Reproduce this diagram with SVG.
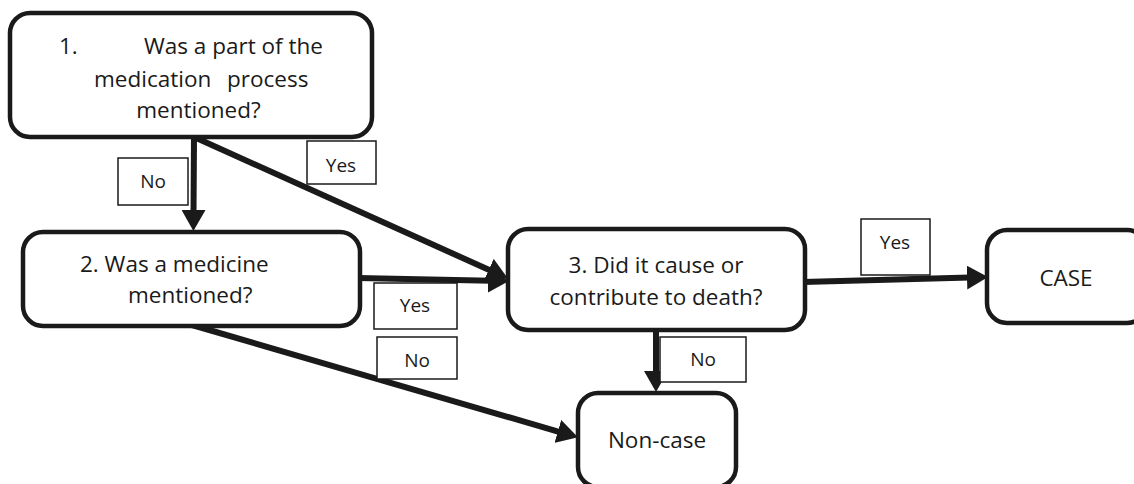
<svg xmlns="http://www.w3.org/2000/svg" width="1134" height="484" viewBox="0 0 1134 484">
<defs>
<style>
.box{fill:#fff;stroke:#1a1a1a;stroke-width:4.5}
.lbl{fill:#fff;stroke:#1a1a1a;stroke-width:1.5}
.con{stroke:#1a1a1a;stroke-width:6;fill:none;marker-end:url(#ah)}
text{font-family:"Open Sans","Liberation Sans",sans-serif;fill:#1a1a1a}
.t{font-size:22.5px}
.l{font-size:19px;text-anchor:middle}
.c{text-anchor:middle}
</style>
<marker id="ah" markerUnits="userSpaceOnUse" markerWidth="22" markerHeight="24" refX="3" refY="12" orient="auto" viewBox="0 0 22 24">
<path d="M0,0 L21,12 L0,24 z" fill="#1a1a1a"/>
</marker>
</defs>
<rect width="1134" height="484" fill="#fff"/>
<g id="connectors">
<line class="con" x1="194" y1="138" x2="193.5" y2="213"/>
<line class="con" x1="194" y1="137" x2="491.5" y2="271"/>
<line class="con" x1="358" y1="278" x2="491" y2="280.7"/>
<line class="con" x1="803" y1="282" x2="970" y2="277.5"/>
<line class="con" x1="656" y1="330" x2="656" y2="374"/>
<line class="con" x1="192" y1="325" x2="560.7" y2="432.3"/>
<g id="label-no-1"><rect class="lbl" x="118" y="158" width="70" height="47"/><text class="l" x="153" y="188">No</text></g>
<g id="label-yes-1"><rect class="lbl" x="307" y="141" width="69" height="43"/><text class="l" x="341" y="172">Yes</text></g>
<g id="label-yes-2"><rect class="lbl" x="374" y="283" width="83" height="46"/><text class="l" x="415" y="312">Yes</text></g>
<g id="label-no-2"><rect class="lbl" x="377" y="337" width="80" height="42"/><text class="l" x="417" y="367">No</text></g>
<g id="label-yes-3"><rect class="lbl" x="861" y="219" width="69" height="56"/><text class="l" x="895" y="249">Yes</text></g>
<g id="label-no-3"><rect class="lbl" x="660" y="337" width="86" height="45"/><text class="l" x="703" y="366">No</text></g>
</g>
<g id="node1">
<rect class="box" x="10" y="13" width="362" height="124" rx="20"/>
<text class="t" y="54"><tspan x="59">1.</tspan><tspan x="144">Was a part of the</tspan></text>
<text class="t" y="87"><tspan x="94">medication</tspan><tspan x="227">process</tspan></text>
<text class="t c" x="198.5" y="118">mentioned?</text>
</g>
<g id="node2">
<rect class="box" x="23" y="232" width="337" height="94" rx="20"/>
<text class="t" x="80" y="272">2. Was a medicine</text>
<text class="t" x="128" y="303">mentioned?</text>
</g>
<g id="node3">
<rect class="box" x="508" y="229" width="297" height="101" rx="20"/>
<text class="t c" x="656" y="273">3. Did it cause or</text>
<text class="t c" x="656" y="305">contribute to death?</text>
</g>
<g id="node-case">
<rect class="box" x="987" y="230" width="160" height="93" rx="20"/>
<text class="t c" x="1066" y="286">CASE</text>
</g>
<g id="node-noncase">
<rect class="box" x="578" y="393" width="158" height="94" rx="20"/>
<text class="t c" x="657" y="448">Non-case</text>
</g>
</svg>
